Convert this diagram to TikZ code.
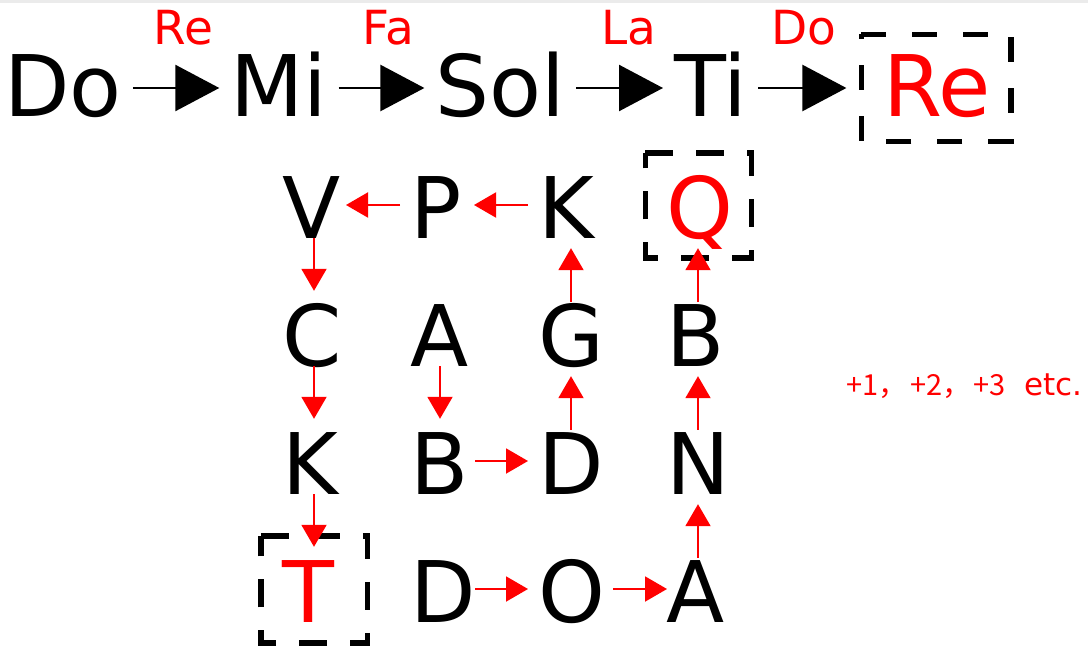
\documentclass[tikz,border=0pt]{standalone}
\usepackage{fontspec}
\setmainfont{DejaVu Sans}
\newfontfamily\cjkfont{Noto Sans CJK SC}
\usetikzlibrary{arrows.meta}
\begin{document}
\begin{tikzpicture}[x=1pt,y=-1pt,
  bigtxt/.style={font=\fontsize{85pt}{90pt}\selectfont, inner sep=0pt, anchor=base west},
  toptxt/.style={bigtxt, text height=58pt, text depth=0pt},
  gridtxt/.style={bigtxt, text height=66pt, text depth=0pt},
  lbl/.style={font=\fontsize{47pt}{50pt}\selectfont, text=red, inner sep=0pt, anchor=base west},
  blackarrow/.style={line width=2.5pt, -{Triangle[length=44pt,width=46pt]}},
  redarrow/.style={red, line width=2pt, -{Triangle[length=22pt,width=25pt]}},
  boxdashA/.style={line width=5.5pt, dash pattern=on 25pt off 26pt},
  boxdashB/.style={line width=5.5pt, dash pattern=on 28pt off 23pt},
  boxframe/.style={inner sep=0pt, draw=none}
]
\useasboundingbox (0,0) rectangle (1088,650);
\fill[black!8] (0,0) rectangle (1088,3);

% top row
\node[toptxt] (do) at (4,117) {Do};
\node[toptxt] (mi) at (230.3,117) {Mi};
\node[toptxt] (sol) at (435.4,117) {Sol};
\node[toptxt] (ti) at (674,117) {Ti};
\node[toptxt,text=red] (re) at (883,117) {Re};
\node[boxframe, minimum width=149.4pt, minimum height=107pt] (rebox) at (936.3,88) {};
\draw[boxdashA] (rebox.north west) -- (rebox.north east) -- (rebox.south east) -- (rebox.south west) -- cycle;

\draw[blackarrow] ([xshift=11pt]do.east) -- ([xshift=-11pt]mi.west);
\draw[blackarrow] ([xshift=11pt]mi.east) -- ([xshift=-11pt]sol.west);
\draw[blackarrow] ([xshift=11pt]sol.east) -- ([xshift=-11pt]ti.west);
\draw[blackarrow] ([xshift=11pt]ti.east) -- ([xshift=-15pt]rebox.west);

\node[lbl] (l1) at (153.3,45) {Re};
\node[lbl] (l2) at (362.1,45) {Fa};
\node[lbl] (l3) at (601.1,45) {La};
\node[lbl] (l4) at (771.3,45) {Do};

% grid
\node[gridtxt] (v1) at (282,238) {V};
\node[gridtxt] (p1) at (410,238) {P};
\node[gridtxt] (k1) at (538,238) {K};
\node[gridtxt,text=red] (q1) at (666,238) {Q};
\node[gridtxt] (c2) at (282,366) {C};
\node[gridtxt] (a2) at (410,366) {A};
\node[gridtxt] (g2) at (538,366) {G};
\node[gridtxt] (b2) at (666,366) {B};
\node[gridtxt] (k3) at (282,494) {K};
\node[gridtxt] (b3) at (410,494) {B};
\node[gridtxt] (d3) at (538,494) {D};
\node[gridtxt] (n3) at (666,494) {N};
\node[gridtxt,text=red] (t4) at (282,622) {T};
\node[gridtxt] (d4) at (410,622) {D};
\node[gridtxt] (o4) at (538,622) {O};
\node[gridtxt] (a4) at (666,622) {A};

\node[boxframe, minimum width=106pt, minimum height=105pt] (qbox) at (698.5,205.5) {};
\node[boxframe, minimum width=106.5pt, minimum height=107pt] (tbox) at (314.25,589.5) {};
\draw[boxdashB] (qbox.north west) -- (qbox.north east) -- (qbox.south east) -- (qbox.south west) -- cycle;
\draw[boxdashB] (tbox.north west) -- (tbox.north east) -- (tbox.south east) -- (tbox.south west) -- cycle;

\draw[redarrow] ([xshift=-10pt]k1.west) -- ([xshift=64pt]p1.west);
\draw[redarrow] ([xshift=-10pt]p1.west) -- ([xshift=64pt]v1.west);
\draw[redarrow] ([xshift=32pt]v1.south west) -- ([xshift=32pt,yshift=9pt]c2.north west);
\draw[redarrow] ([xshift=32pt]c2.south west) -- ([xshift=32pt,yshift=9pt]k3.north west);
\draw[redarrow] ([xshift=32pt]k3.south west) -- ([xshift=32pt,yshift=9pt]t4.north west);
\draw[redarrow] ([xshift=30pt]a2.south west) -- ([xshift=30pt,yshift=9pt]b3.north west);
\draw[redarrow] ([xshift=65pt]b3.west) -- ([xshift=-10pt]d3.west);
\draw[redarrow] ([xshift=33pt,yshift=-2pt]d3.north west) -- ([xshift=33pt,yshift=-10pt]g2.south west);
\draw[redarrow] ([xshift=33pt,yshift=-2pt]g2.north west) -- ([xshift=33pt,yshift=-10pt]k1.south west);
\draw[redarrow] ([xshift=65pt]d4.west) -- ([xshift=-10pt]o4.west);
\draw[redarrow] ([xshift=75pt]o4.west) -- ([xshift=1pt]a4.west);
\draw[redarrow] ([xshift=32pt,yshift=-2pt]a4.north west) -- ([xshift=32pt,yshift=-10pt]n3.south west);
\draw[redarrow] ([xshift=32pt,yshift=-2pt]n3.north west) -- ([xshift=32pt,yshift=-10pt]b2.south west);
\draw[redarrow] ([xshift=32pt,yshift=-2pt]b2.north west) -- ([xshift=32pt,yshift=-10pt]q1.south west);

% note
\node[anchor=base west, inner sep=0pt, text=red] (note) at (846,395)
  {{\cjkfont\fontsize{29pt}{32pt}\selectfont\makebox[64.4pt][l]{+1，}\makebox[63.3pt][l]{+2，}\makebox[50.4pt][l]{+3}}{\fontsize{31pt}{34pt}\selectfont etc.}};
\end{tikzpicture}
\end{document}
